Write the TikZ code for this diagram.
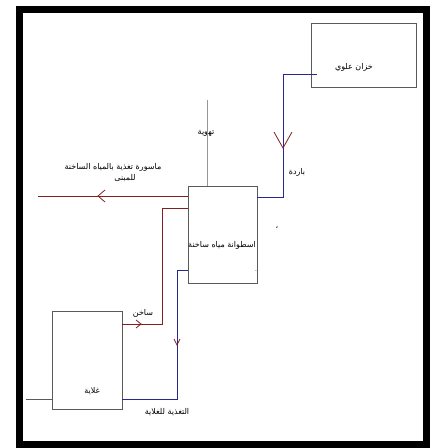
\documentclass[tikz,border=0pt]{standalone}
\usepackage{fontspec}
\newfontfamily\arabicfont[Script=Arabic]{DejaVu Sans}
\TeXXeTstate=1
\usetikzlibrary{calc}
\definecolor{pipered}{RGB}{128,32,32}
\definecolor{pipeblue}{RGB}{40,40,140}
\definecolor{boxgray}{RGB}{90,90,90}
\definecolor{ventgray}{RGB}{150,150,150}
\newcommand{\ar}[1]{{\arabicfont\beginR #1\endR}}

\begin{document}
\begin{tikzpicture}[x=1pt,y=-1pt,
    tank/.style={draw=boxgray,line width=0.7pt,inner sep=0pt},
    coldpipe/.style={draw=pipeblue,line width=0.8pt},
    hotpipe/.style={draw=pipered,line width=0.8pt},
    vent/.style={draw=ventgray,line width=0.9pt},
    lbl/.style={font=\fontsize{8}{9}\selectfont,inner sep=0pt}]
  \useasboundingbox (0,0) rectangle (433,448);
  \draw [line width=7pt] (19.5,9) rectangle (426.5,444);
%%
  \node (upper) [tank,minimum width=105pt,minimum height=64pt] at (363.5,55) {};
  \node (cyl) [tank,minimum width=69pt,minimum height=97pt] at (222.5,234.5) {};
  \node (boiler) [tank,minimum width=70pt,minimum height=98pt] at (87,360) {};
%%
  \node (lupper) [lbl] at (354,67) {\ar{خزان علوي}};
  \node (lvent) [lbl] at (206,133) {\ar{تهوية}};
  \node (lfeed) [lbl] at (113,167) {\ar{ماسورة تغذية بالمياه الساخنة}};
  \node (lfeedb) [lbl] at (125,178) {\ar{للمبنى}};
  \node (lcold) [lbl] at (297,172) {\ar{باردة}};
  \node (lcyl) [lbl] at (222,245) {\ar{اسطوانة مياه ساخنة}};
  \node (lhot) [lbl] at (143,313) {\ar{ساخن}};
  \node (lboiler) [lbl] at (92,391) {\ar{غلاية}};
  \node (lbfeed) [lbl] at (167,412) {\ar{التغذية للغلاية}};
  \node (dot1) [lbl] at (277,228) {\ar{،}};
  \node (dot2) [lbl] at (256,271) {.};
%%
  \coordinate (c0) at (317,74);
  \coordinate (c1) at (283,74);
  \coordinate (c2) at (283,197);
  \coordinate (c3) at (cyl.east |- c2);
  \coordinate (ctip) at (283,148);
  \draw [coldpipe] (c0) -- (c1) -- (c2) -- (c3);
  \draw [hotpipe] ($(ctip)+(-9,-16)$) -- (ctip) -- ($(ctip)+(9,-16)$);
%%
  \coordinate (v0) at (207,100);
  \draw [vent] (v0) -- (v0 |- cyl.north);
%%
  \coordinate (h0) at (cyl.west |- 0,196);
  \coordinate (h1) at (38,196);
  \coordinate (htip) at (98,196);
  \draw [hotpipe] (h0) -- (h1);
  \draw [hotpipe] ($(htip)+(7,-6)$) -- (htip) -- ($(htip)+(7,6)$);
%%
  \coordinate (s0) at (cyl.west |- 0,208);
  \coordinate (s1) at (162,208);
  \coordinate (s2) at (162,324);
  \coordinate (s3) at (boiler.east |- s2);
  \coordinate (stip) at (141,324);
  \draw [hotpipe] (s0) -- (s1) -- (s2) -- (s3);
  \draw [hotpipe] ($(stip)+(-5,-4)$) -- (stip) -- ($(stip)+(-5,4)$);
%%
  \coordinate (b0) at (cyl.west |- 0,270);
  \coordinate (b1) at (177,270);
  \coordinate (b2) at (177,399);
  \coordinate (b3) at (boiler.east |- b2);
  \coordinate (btip) at (177,345);
  \draw [coldpipe] (b0) -- (b1) -- (b2) -- (b3);
  \draw [hotpipe] ($(btip)+(-3,-6)$) -- (btip) -- ($(btip)+(3,-6)$);
%%
  \coordinate (g0) at (26,399);
  \draw [tank] (g0) -- (boiler.west |- g0);
\end{tikzpicture}
\end{document}
